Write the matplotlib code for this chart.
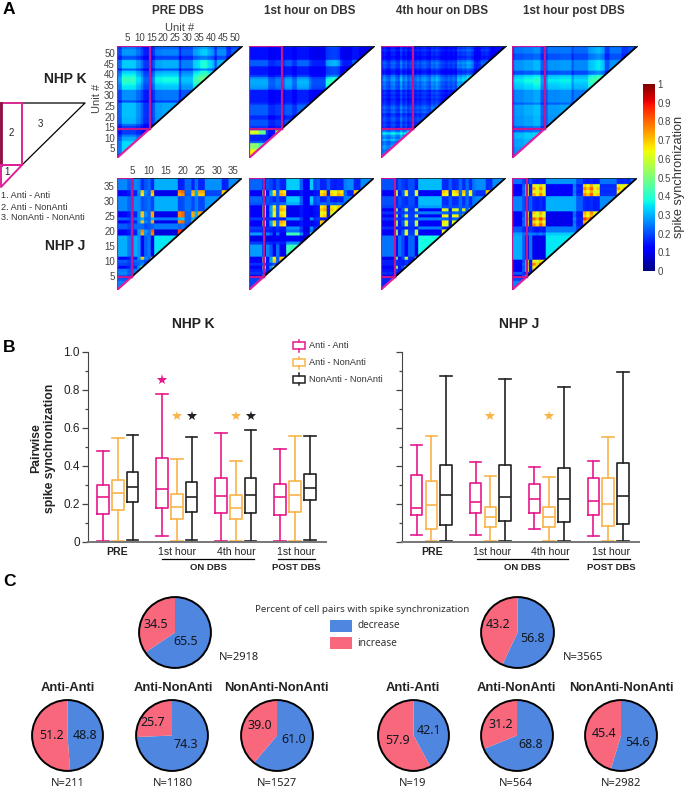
"""Spike synchronization figure: triangular heatmaps, box plots and pies."""

import matplotlib

matplotlib.use("Agg")

import matplotlib.pyplot as plt
import numpy as np
from matplotlib.patches import Circle, Polygon, Rectangle

plt.rcParams["font.family"] = ["Liberation Sans", "DejaVu Sans"]

WIDTH, HEIGHT = 687, 791

# Heatmap bands, estimated per unit from the picture. A cell is the sum of the
# two products of its units' levels: "cool" bands and "hot" bands.
K_PRE_COOL = ([.45] * 2 + [.66] * 6 + [.55] * 2 + [.45] + [.33] * 4 + [.42] + [.58] * 3 + [.6] * 7 + [.36]
              + [.5] * 5 + [.68, .68, .72, .78, .8, .8, .72, .68, .62] + [.4] + [.62] * 4 + [.38] * 2
              + [.52] * 3 + [.45] * 2)
K_PRE_HOT = [0] * 53
K_1H_COOL = ([.5] * 8 + [.36] * 3 + [.42] * 3 + [.4] + [.5] * 3 + [.38] * 2 + [.52] * 5 + [.4] + [.33] * 6
             + [.66, .7, .72, .74, .72, .66] + [.42] + [.32] * 4 + [.52] * 3 + [.3] * 6 + [.38])
K_1H_HOT = [.72] * 4 + [.5] * 3 + [0] * 4 + [.7] * 2 + [0] * 40
K_4H_COOL = [.4, .5, .42, .38, .5, .52, .4, .38, .6, .42, .5, .38, .45, .4, .42, .48, .42, .5, .52, .45, .4,
             .55, .5, .58, .5, .42, .4, .36, .42, .38, .44, .38, .6, .56, .62, .6, .7, .66, .58, .36, .32,
             .38, .52, .5, .55, .48, .32, .3, .36, .34, .42, .34, .4]
K_4H_HOT = [.3] * 11 + [.8, .3] + [0] * 40
K_POST_COOL = ([.45] + [.58] * 4 + [.62] * 4 + [.66] * 3 + [.45] * 3 + [.58] * 5 + [.6] * 5 + [.45] + [.55] * 6
               + [.68, .7, .72, .76, .78, .74, .68] + [.42] * 2 + [.58] * 5 + [.42] * 3 + [.5] * 3 + [.42])
K_POST_HOT = [0] * 53

J_PRE_COOL = ([.5] * 3 + [.4, .4, .5, .45, .15, .35, .4, .12] + [.6] * 7 + [.1, .1, .4, .4, .12, .4, .12, .12]
              + [.5] * 5 + [.12, .12] + [.5] * 4)
J_PRE_HOT = ([.05] * 3 + [.1, .15, .1, .25, .85, .25, .2, .9] + [0] * 7 + [.95, 1, .2, .2, .9, .3, .9, .9]
             + [.15] * 5 + [.85, .9] + [.1] * 4)
J_1H_COOL = ([.42] * 4 + [.12, .38, .3, .12, .35, .12, .12] + [.66] * 4 + [.4, .15, .15, .66, .35, .4, .12, .12,
             .4, .12, .12, .12, .12, .45, .5, .5, .12, .12] + [.5] * 4)
J_1H_HOT = ([.05] * 4 + [.8, .1, .3, .85, .2, .9, .85] + [0] * 4 + [.1, .1, .1, 0, .1, .1, .85, .9, .1, .85,
            .8, .9, .85, .2, .1, .1, .9, .85] + [.1] * 4)
J_4H_COOL = ([.38] * 4 + [.15, .38, .3, .15, .35, .35, .12] + [.62] * 7 + [.15, .15, .4, .15, .15, .4, .15, .4,
             .15, .45, .5, .5, .5, .15, .15] + [.5] * 4)
J_4H_HOT = ([.05] * 4 + [.7, .1, .2, .8, .15, .15, .75] + [0] * 7 + [.85, .8, .1, .8, .85, .2, .85, .2, .8,
            .15, .1, .1, .1, .85, .9] + [.1] * 4)
J_POST_COOL = ([.5] * 3 + [.35, .15, .4, .12, .12, .12, .12] + [.6] * 8 + [.55, .4, .4, .12, .12, .12, .12, .12]
               + [.5] * 5 + [.15] * 4 + [.45] * 2)
J_POST_HOT = ([.03] * 3 + [.2, .8, .1, .9, .8, .95, .8] + [0] * 8 + [.2, .1, .1, .95, .85, 1, .8, .85]
              + [.1] * 5 + [.9, .8, .9, .8] + [.1] * 2)

K_TICKS = [5, 10, 15, 20, 25, 30, 35, 40, 45, 50]
J_TICKS = [5, 10, 15, 20, 25, 30, 35]
COLUMN_TITLES = ["PRE DBS", "1st hour on DBS", "4th hour on DBS", "1st hour post DBS"]
COLORBAR_TICKS = [0, .1, .2, .3, .4, .5, .6, .7, .8, .9, 1]
COLORBAR_LABELS = ["0", "0.1", "0.2", "0.3", "0.4", "0.5", "0.6", "0.7", "0.8", "0.9", "1"]

# Box plots: whisker low, Q1, median, Q3, whisker high, one row per period.
K_ANTI = [[.005, .145, .235, .30, .475], [.03, .175, .28, .44, .775],
          [.005, .15, .24, .335, .57], [.005, .14, .235, .305, .49]]
K_MIXED = [[.005, .165, .255, .325, .545], [.005, .12, .185, .25, .435],
           [.005, .12, .175, .245, .425], [.005, .155, .245, .32, .555]]
K_NON = [[.01, .21, .29, .365, .56], [.01, .155, .235, .315, .55],
         [.005, .15, .245, .335, .59], [.01, .22, .285, .355, .555]]
J_ANTI = [[.035, .14, .175, .35, .51], [.035, .15, .21, .31, .42],
          [.065, .15, .225, .305, .395], [.03, .14, .215, .335, .425]]
J_MIXED = [[.005, .065, .195, .32, .555], [.005, .075, .13, .185, .345],
           [.005, .08, .13, .185, .34], [.005, .085, .20, .335, .55]]
J_NON = [[.005, .09, .245, .405, .87], [.005, .11, .235, .405, .855],
         [.005, .105, .225, .39, .815], [.005, .095, .24, .415, .895]]
PERIOD_LABELS = ["PRE", "1st hour", "4th hour", "1st hour"]
SERIES_NAMES = ["Anti - Anti", "Anti - NonAnti", "NonAnti - NonAnti"]

# Pies: percent of pairs that decrease, percent that increase, N.
PIE_TITLES = ["Anti-Anti", "Anti-NonAnti", "NonAnti-NonAnti"]
K_ALL_PIE = [65.5, 34.5]
J_ALL_PIE = [56.8, 43.2]
K_GROUP_PIES = [[48.8, 51.2], [74.3, 25.7], [61.0, 39.0]]
J_GROUP_PIES = [[42.1, 57.9], [68.8, 31.2], [54.6, 45.4]]
K_ALL_N = 2918
J_ALL_N = 3565
K_GROUP_N = [211, 1180, 1527]
J_GROUP_N = [19, 564, 2982]

MAGENTA = "#c4178f"
BOX_COLORS = ["#e6198c", "#f9b44a", "#222222"]
PIE_COLORS = ["#4f86e0", "#f8677c"]
TEXT = "#222222"


def px_axes(fig, x0, y0, x1, y1, **kwargs):
    """Add axes from pixel edges, counted from the top left of the figure."""
    rect = [x0 / WIDTH, 1 - y1 / HEIGHT, (x1 - x0) / WIDTH, (y1 - y0) / HEIGHT]
    return fig.add_axes(rect, **kwargs)


def draw_heatmap(ax, cool, hot, n_anti, cool_gain):
    cool = np.array(cool)
    hot = np.array(hot)
    n = len(cool)
    cells = .03 + cool_gain * np.outer(cool, cool) + .85 * np.outer(hot, hot)
    # repeat the cells so that bilinear only softens the edge of each one
    cells = np.kron(cells, np.ones((4, 4)))
    im = ax.imshow(cells, origin="lower", extent=(0, n, 0, n), aspect="auto", cmap="jet",
                   vmin=0, vmax=1, interpolation="bilinear")
    im.set_clip_path(Polygon([(0, 0), (0, n), (n, n)], closed=True, transform=ax.transData))
    ax.plot([n_anti, n], [n_anti, n], color="black", lw=1.3, zorder=3)
    ax.plot([n_anti, n], [n, n], color="#1c2a3a", lw=1.3, zorder=3)
    ax.plot([0, n_anti], [0, n_anti], color="#e0209a", lw=1.6, zorder=4)
    ax.plot([0, 0, n_anti, n_anti], [0, n, n, n_anti], color=MAGENTA, lw=1.6, zorder=4)
    ax.plot([0, n_anti], [n_anti, n_anti], color=MAGENTA, lw=1.6, zorder=4)
    ax.set_xlim(0, n)
    ax.set_ylim(0, n)
    ax.set_xticks([])
    ax.set_yticks([])
    for spine in ax.spines.values():
        spine.set_visible(False)


def draw_boxes(ax, series, show_labels):
    for s, (rows, color) in enumerate(zip(series, BOX_COLORS)):
        stats = [dict(whislo=r[0], q1=r[1], med=r[2], q3=r[3], whishi=r[4]) for r in rows]
        positions = [4 * g + 1 + s for g in range(len(rows))]
        style = dict(color=color, lw=1.2)
        ax.bxp(stats, positions=positions, widths=.78, capwidths=.78, showfliers=False,
               boxprops=style, medianprops=style, whiskerprops=style, capprops=style,
               manage_ticks=False)
    ax.set_xlim(-.017, 16.1)
    ax.set_ylim(0, 1)
    ax.set_xticks([])
    ax.set_yticks([0, .2, .4, .6, .8, 1])
    ax.set_yticks([.1, .3, .5, .7, .9], minor=True)
    ax.tick_params(axis="y", which="major", length=4, width=.9, color="#444444", labelsize=8.5,
                   labelcolor=TEXT, pad=2, labelleft=show_labels)
    ax.tick_params(axis="y", which="minor", length=2, width=.9, color="#444444")
    ax.set_yticklabels(["0", "0.2", "0.4", "0.6", "0.8", "1.0"] if show_labels else [])
    ax.spines[["top", "right"]].set_visible(False)
    ax.spines["left"].set_color("#444444")
    ax.spines["bottom"].set_color("#777777")
    ax.spines["bottom"].set_linewidth(1.4)
    ax.patch.set_alpha(0)


def draw_pie(fig, box, values, labels_at):
    ax = px_axes(fig, *box)
    ax.pie(values, colors=PIE_COLORS, startangle=90, counterclock=False, radius=1)
    ax.add_patch(Circle((0, 0), 1, fill=False, edgecolor="black", lw=1.4))
    ax.set_aspect("auto")
    ax.set_xlim(-1.03, 1.03)
    ax.set_ylim(-1.03, 1.03)
    for value, (x, y) in zip(values, labels_at):
        ax.text(x, y, f"{value:.1f}", ha="center", va="center", fontsize=9,
                family=["Noto Sans"], color="#101820")


def main():
    fig = plt.figure(figsize=(WIDTH / 100, HEIGHT / 100), dpi=100)

    # panel A
    k_panels = [(K_PRE_COOL, K_PRE_HOT), (K_1H_COOL, K_1H_HOT), (K_4H_COOL, K_4H_HOT), (K_POST_COOL, K_POST_HOT)]
    j_panels = [(J_PRE_COOL, J_PRE_HOT), (J_1H_COOL, J_1H_HOT), (J_4H_COOL, J_4H_HOT), (J_POST_COOL, J_POST_HOT)]
    lefts = [117, 249, 380.5, 512]
    for col, left in enumerate(lefts):
        ax_k = px_axes(fig, left, 45.5, left + 126, 158)
        draw_heatmap(ax_k, *k_panels[col], 13.8, .72)
        ax_j = px_axes(fig, left, 178, left + 125, 290)
        draw_heatmap(ax_j, *j_panels[col], 4.3, .9)
        if col == 0:
            for ax, ticks in ((ax_k, K_TICKS), (ax_j, J_TICKS)):
                positions = [t - .5 for t in ticks]
                ax.xaxis.tick_top()
                ax.set_xticks(positions, [str(t) for t in ticks])
                ax.set_yticks(positions, [str(t) for t in ticks])
                ax.tick_params(length=0, pad=1.5, labelsize=7, labelcolor="#444444")

    ax_bar = px_axes(fig, 643, 84, 655, 271)
    ax_bar.imshow(np.linspace(0, 1, 256)[:, None], origin="lower", aspect="auto", cmap="jet", extent=(0, 1, 0, 1))
    ax_bar.set_xticks([])
    ax_bar.yaxis.tick_right()
    ax_bar.set_yticks(COLORBAR_TICKS, COLORBAR_LABELS)
    ax_bar.tick_params(length=0, pad=2, labelsize=7, labelcolor="#444444")
    for spine in ax_bar.spines.values():
        spine.set_visible(False)

    # panel B
    ax_left = px_axes(fig, 88, 351.7, 326, 541.7)
    draw_boxes(ax_left, [K_ANTI, K_MIXED, K_NON], True)
    ax_left.plot([5], [.85], marker="*", ms=8, color=BOX_COLORS[0], ls="none", mew=0)
    ax_left.plot([6, 10], [.663, .663], marker="*", ms=7, color=BOX_COLORS[1], ls="none", mew=0)
    ax_left.plot([7, 11], [.663, .663], marker="*", ms=7, color=BOX_COLORS[2], ls="none", mew=0)

    ax_right = px_axes(fig, 401.7, 351.7, 639, 541.7)
    draw_boxes(ax_right, [J_ANTI, J_MIXED, J_NON], False)
    ax_right.plot([6, 10], [.663, .663], marker="*", ms=7, color=BOX_COLORS[1], ls="none", mew=0)

    # panel C
    draw_pie(fig, (138, 596, 212, 669), K_ALL_PIE, [(.3, -.25), (-.54, .22)])
    draw_pie(fig, (480, 596, 555, 669), J_ALL_PIE, [(.42, -.17), (-.53, .22)])
    k_boxes = [(31, 699, 104, 772), (135, 699, 209, 772), (240, 699, 314, 772)]
    j_boxes = [(377, 699, 450, 772), (480, 699, 554, 772), (584, 699, 658, 772)]
    k_spots = [[(.5, 0), (-.45, 0)], [(.38, -.26), (-.54, .38)], [(.46, -.12), (-.49, .29)]]
    j_spots = [[(.43, .15), (-.46, -.15)], [(.38, -.26), (-.46, .32)], [(.45, -.2), (-.46, .07)]]
    for box, values, spots in zip(k_boxes + j_boxes, K_GROUP_PIES + J_GROUP_PIES, k_spots + j_spots):
        draw_pie(fig, box, values, spots)

    # everything placed by pixel goes on one overlay
    ov = px_axes(fig, 0, 0, WIDTH, HEIGHT, zorder=10)
    ov.set_xlim(0, WIDTH)
    ov.set_ylim(HEIGHT, 0)
    ov.axis("off")
    ov.patch.set_alpha(0)

    for letter, x, y in (("A", 9, 10), ("B", 9, 347), ("C", 10, 581)):
        ov.text(x, y, letter, ha="center", va="center", fontsize=12.5, weight="bold", color="black")
    for title, x in zip(COLUMN_TITLES, (178, 310, 442, 574)):
        ov.text(x, 14, title, ha="center", va="baseline", fontsize=8.4, weight="bold", color="#333333")
    for title, x, y in (("NHP K", 65, 79), ("NHP J", 65, 246), ("NHP K", 193, 324), ("NHP J", 519, 324)):
        ov.text(x, y, title, ha="center", va="center", fontsize=10, weight="bold", color=TEXT)
    ov.text(180, 28, "Unit #", ha="center", va="center", fontsize=8, color="#444444")
    ov.text(97.5, 98, "Unit #", ha="center", va="center", fontsize=8, color="#444444", rotation=90)
    ov.text(679, 177, "spike synchronization", ha="center", va="center", fontsize=9.2, color="#333333", rotation=90)

    # schematic triangle
    ov.plot([22, 85, 22], [103, 103, 165], color="black", lw=.9)
    ov.plot([1, 1, 22, 22, 1], [103, 165, 165, 103, 103], color="#d9288f", lw=1.4)
    ov.plot([1, 1], [103, 165], color="#8e1040", lw=2)
    ov.plot([1, 1, 22, 1], [165, 187, 165, 165], color="#e0209a", lw=1.4)
    for mark, x, y in (("1", 7, 172), ("2", 11, 133), ("3", 40, 124)):
        ov.text(x, y, mark, ha="center", va="center", fontsize=7, color=TEXT)
    for i, (name, y) in enumerate(zip(SERIES_NAMES, (196, 207, 218))):
        ov.text(1, y, f"{i + 1}. {name}", ha="left", va="center", fontsize=6.6, color="#333333")

    # box plot legend
    for name, color, y in zip(SERIES_NAMES, BOX_COLORS, (345.7, 362.7, 379.3)):
        ov.add_patch(Rectangle((293, y - 3.5), 12, 7, fill=False, edgecolor=color, lw=1.1))
        ov.plot([299, 299], [y - 6, y - 3.5], color=color, lw=1.1)
        ov.plot([299, 299], [y + 3.5, y + 6], color=color, lw=1.1)
        ov.text(308.7, y, name, ha="left", va="center", fontsize=6.6, color="#333333")

    ov.text(43, 448, "Pairwise\nspike synchronization", ha="center", va="center", fontsize=8.8,
            weight="bold", color=TEXT, rotation=90, linespacing=1.25)
    for x, label in zip((117, 177, 236, 296, 431.7, 491.7, 550.7, 610.7), PERIOD_LABELS * 2):
        ov.text(x, 552, label, ha="center", va="center", fontsize=7.6, color=TEXT,
                weight="bold" if label == "PRE" else "normal")
    for x0, x1, label in ((162, 254, "ON DBS"), (278, 315, "POST DBS"), (476.7, 568, "ON DBS"), (592.7, 630, "POST DBS")):
        ov.plot([x0, x1], [559, 559], color="black", lw=.9)
        ov.text((x0 + x1) / 2, 567, label, ha="center", va="center", fontsize=6.8, weight="bold", color=TEXT)

    # pie texts
    sans = ["Noto Sans"]
    ov.text(362, 610, "Percent of cell pairs with spike synchronization", ha="center", va="center",
            fontsize=7, family=sans, color="#333333")
    for label, color, y in (("decrease", PIE_COLORS[0], 626), ("increase", PIE_COLORS[1], 643)):
        ov.add_patch(Rectangle((330, y - 6), 22, 12, facecolor=color, edgecolor="none"))
        ov.text(357, y, label, ha="left", va="center", fontsize=7.3, family=sans, color="#333333")
    ov.text(219, 658, f"N={K_ALL_N}", ha="left", va="center", fontsize=8, family=sans, color=TEXT)
    ov.text(563, 658, f"N={J_ALL_N}", ha="left", va="center", fontsize=8, family=sans, color=TEXT)
    centers = (67.5, 173, 276.5, 412.5, 516, 621)
    for x, title, n in zip(centers, PIE_TITLES * 2, K_GROUP_N + J_GROUP_N):
        ov.text(x, 688, title, ha="center", va="center", fontsize=9.4, weight="bold", color=TEXT)
        ov.text(x, 783, f"N={n}", ha="center", va="center", fontsize=8, family=sans, color=TEXT)

    fig.savefig("out.png", dpi=100, facecolor="white")


if __name__ == "__main__":
    main()
